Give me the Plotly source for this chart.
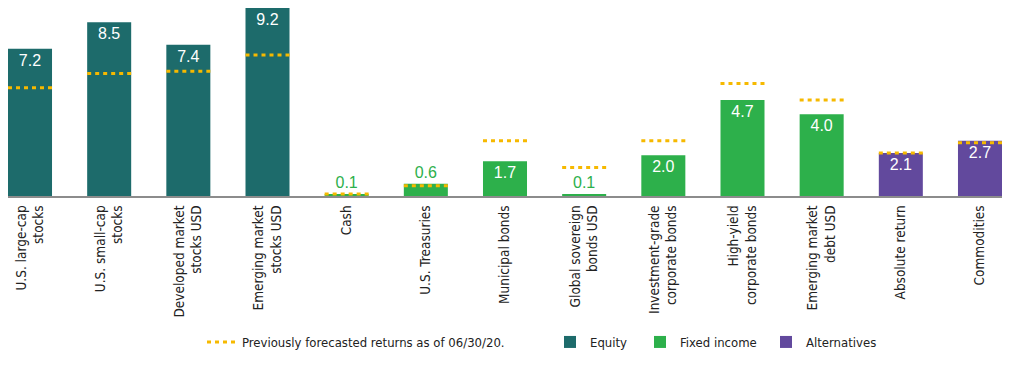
import plotly.graph_objects as go

categories = [
    "U.S. large-cap<br>stocks", "U.S. small-cap<br>stocks", "Developed market<br>stocks USD",
    "Emerging market<br>stocks USD", "Cash", "U.S. Treasuries", "Municipal bonds",
    "Global sovereign<br>bonds USD", "Investment-grade<br>corporate bonds",
    "High-yield<br>corporate bonds", "Emerging market<br>debt USD", "Absolute return", "Commodities",
]
groups = ["Equity"] * 4 + ["Fixed income"] * 7 + ["Alternatives"] * 2
returns = [7.2, 8.5, 7.4, 9.2, 0.1, 0.6, 1.7, 0.1, 2.0, 4.7, 4.0, 2.1, 2.7]
forecast_prev = [5.3, 6.0, 6.1, 6.9, 0.1, 0.5, 2.7, 1.4, 2.7, 5.5, 4.7, 2.1, 2.6]
label_outside = [False, False, False, False, True, True, False, True, False, False, False, False, False]

colors = {"Equity": "#1d6b6b", "Fixed income": "#2db04b", "Alternatives": "#62499d"}
GOLD = "#f6b900"
BAR_W = 0.556
FONT_NARROW = "DejaVu Sans Condensed, DejaVu Sans, sans-serif"
FONT_VAL = "Liberation Sans, Arial, sans-serif"

W, H = 1003, 360  # page body adds an 8px offset

fig = go.Figure()

legend_names = {"Equity": "legend2", "Fixed income": "legend3", "Alternatives": "legend4"}
for g in ["Equity", "Fixed income", "Alternatives"]:
    idx = [i for i, gg in enumerate(groups) if gg == g]
    fig.add_trace(go.Bar(
        x=idx,
        y=[returns[i] for i in idx],
        width=BAR_W,
        name=g,
        marker=dict(color=colors[g], line=dict(width=0)),
        text=[f"{returns[i]:.1f}" for i in idx],
        textposition=["outside" if label_outside[i] else "inside" for i in idx],
        insidetextanchor="end",
        insidetextfont=dict(color="white", size=16, family=FONT_VAL),
        outsidetextfont=dict(color=colors[g], size=16, family=FONT_VAL),
        constraintext="none",
        cliponaxis=False,
        legend=legend_names[g],
        hoverinfo="skip",
    ))

fx, fy = [], []
for i, f in enumerate(forecast_prev):
    fx += [i - BAR_W / 2, i + BAR_W / 2, None]
    fy += [f, f, None]
fig.add_trace(go.Scatter(
    x=fx, y=fy, mode="lines",
    line=dict(color=GOLD, width=3, dash="4px,4px"),
    name="Previously forecasted returns as of 06/30/20.",
    legend="legend",
    hoverinfo="skip",
    cliponaxis=False,
))

LEG_Y = 1 - 334 / H
leg_common = dict(
    orientation="h", xref="container", yref="container",
    yanchor="middle", xanchor="left",
    font=dict(family=FONT_NARROW, size=13, color="#222"),
    bgcolor="rgba(0,0,0,0)", borderwidth=0,
)

fig.update_layout(
    width=W, height=H,
    margin=dict(l=0, r=9, t=0, b=172, autoexpand=False),
    paper_bgcolor="white", plot_bgcolor="white",
    barmode="overlay",
    showlegend=True,
    legend=dict(x=194 / W, y=LEG_Y, **leg_common),
    legend2=dict(x=542 / W, y=LEG_Y, **leg_common),
    legend3=dict(x=632 / W, y=LEG_Y, **leg_common),
    legend4=dict(x=758 / W, y=LEG_Y, **leg_common),
    xaxis=dict(
        range=[-BAR_W / 2, len(categories) - 1 + BAR_W / 2],
        tickmode="array",
        tickvals=list(range(len(categories))),
        ticktext=categories,
        tickangle=-90,
        tickfont=dict(family=FONT_NARROW, size=13.5, color="#222"),
        ticklabelstandoff=2,
        showgrid=False, zeroline=False,
        showline=True, linecolor="#8c8c8c", linewidth=2,
        ticks="",
        automargin=False,
    ),
    yaxis=dict(
        range=[0, 9.2],
        visible=False,
        showgrid=False, zeroline=False,
        automargin=False,
    ),
)

fig.write_html("out.html")
